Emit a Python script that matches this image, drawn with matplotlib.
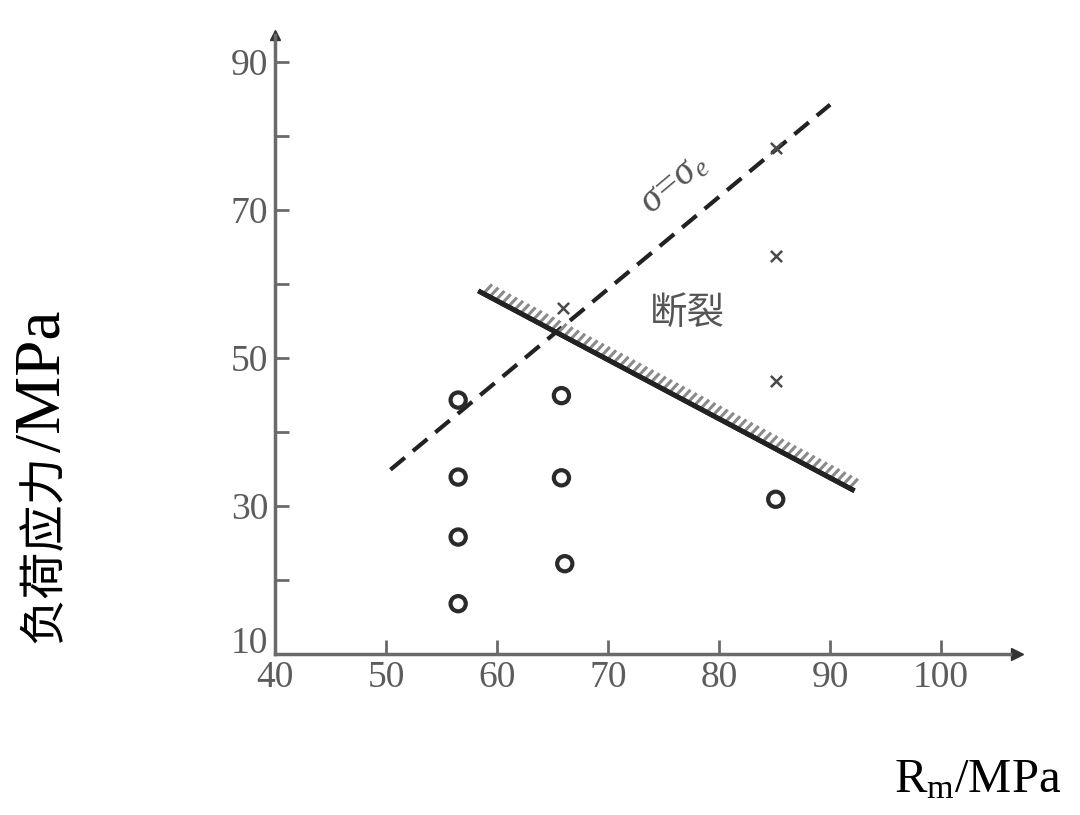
import matplotlib
matplotlib.use("Agg")
import matplotlib.pyplot as plt
import matplotlib.patheffects as pe
import matplotlib.transforms as mtrans

plt.rcParams['font.family'] = ['Liberation Serif', 'Noto Sans CJK SC', 'DejaVu Sans']
plt.rcParams['mathtext.fontset'] = 'custom'
plt.rcParams['mathtext.rm'] = 'Liberation Serif'
plt.rcParams['mathtext.it'] = 'Liberation Serif:italic'

# data
safe_x = [56.5, 56.5, 56.5, 56.5, 65.8, 65.8, 66.1, 85.1]
safe_y = [44.3, 33.9, 25.8, 16.8, 44.9, 33.8, 22.2, 30.9]
fail_x = [85.1, 85.1, 85.1, 65.9]
fail_y = [78.4, 63.8, 46.9, 56.8]
dash_x = [50.4, 90.0]
dash_y = [34.9, 84.2]
limit_x = [58.5, 92.0]
limit_y = [58.9, 32.2]
xticks = [40, 50, 60, 70, 80, 90, 100]
yticks_major = [10, 30, 50, 70, 90]
yticks_minor = [20, 40, 60, 80]

fig = plt.figure(figsize=(10.8, 8.15), dpi=100)
ax = fig.add_axes([0.2546, 0.1975, 0.6806, 0.7595])
ax.set_xlim(40, 106.2)
ax.set_ylim(10, 93.6)

axis_col = '#6a6a6a'
for s in ['top', 'right']:
    ax.spines[s].set_visible(False)
for s in ['left', 'bottom']:
    ax.spines[s].set_color(axis_col)
    ax.spines[s].set_linewidth(2.5)

ax.plot(1.01, 0, '>', color='#333333', ms=9, transform=ax.transAxes, clip_on=False)
ax.plot(0, 1, '^', color='#333333', ms=7, transform=ax.transAxes, clip_on=False)

ax.set_xticks(xticks)
ax.set_xticklabels([str(t) for t in xticks])
ax.set_yticks(yticks_major)
ax.set_yticklabels([str(t) for t in yticks_major])
ax.set_yticks(yticks_minor, minor=True)
ax.tick_params(axis='both', which='both', direction='in', length=10, width=2,
               color=axis_col, labelcolor='#5c5c5c', labelsize=27)
ax.tick_params(axis='x', pad=5)
ax.tick_params(axis='y', pad=5)

# dashed line
ax.plot(dash_x, dash_y, linestyle=(0, (4.5, 2.5)), color='#222222', lw=3)

# limit line with hatching
ax.plot(limit_x, limit_y, color='#222222', lw=3.5,
        path_effects=[pe.withTickedStroke(angle=75, spacing=5, length=1.6,
                                          linewidth=2.2, foreground='#8a8a8a'),
                      pe.Normal()])

ax.scatter(safe_x, safe_y, s=120, facecolors='none', edgecolors='#2a2a2a', linewidths=3, zorder=3)
ax.scatter(fail_x, fail_y, s=65, marker='x', color='#4a4a4a', linewidths=1.8, zorder=3)

ax.text(75.9, 73.6, r'$\sigma\!=\!\sigma_e$', fontsize=28, color='#555555',
        rotation=40, ha='center', va='center')
ax.text(77.1, 56.0, '断裂', fontsize=27, color='#555555', ha='center', va='center',
        family=['Noto Sans CJK SC'])

cjk = fig.text(0.041, 0.211, '负荷应力', rotation=90, fontsize=34, ha='center', va='bottom',
               family=['Noto Sans CJK SC'])
fig.canvas.draw()
lab10 = ax.get_yticklabels()[0]
lab10.set_transform(lab10.get_transform() + mtrans.ScaledTranslation(0, 14 / 100, fig.dpi_scale_trans))
bb = cjk.get_window_extent(renderer=fig.canvas.get_renderer())
fig.text(0.041, (bb.y1 + 2) / fig.bbox.height, '/MPa', rotation=90, fontsize=47,
         ha='center', va='bottom', family=['Liberation Serif'])
fig.text(0.905, 0.043, r'R$_\mathrm{m}$/MPa', fontsize=35, ha='center', va='center')

fig.savefig('out.png', dpi=100)
